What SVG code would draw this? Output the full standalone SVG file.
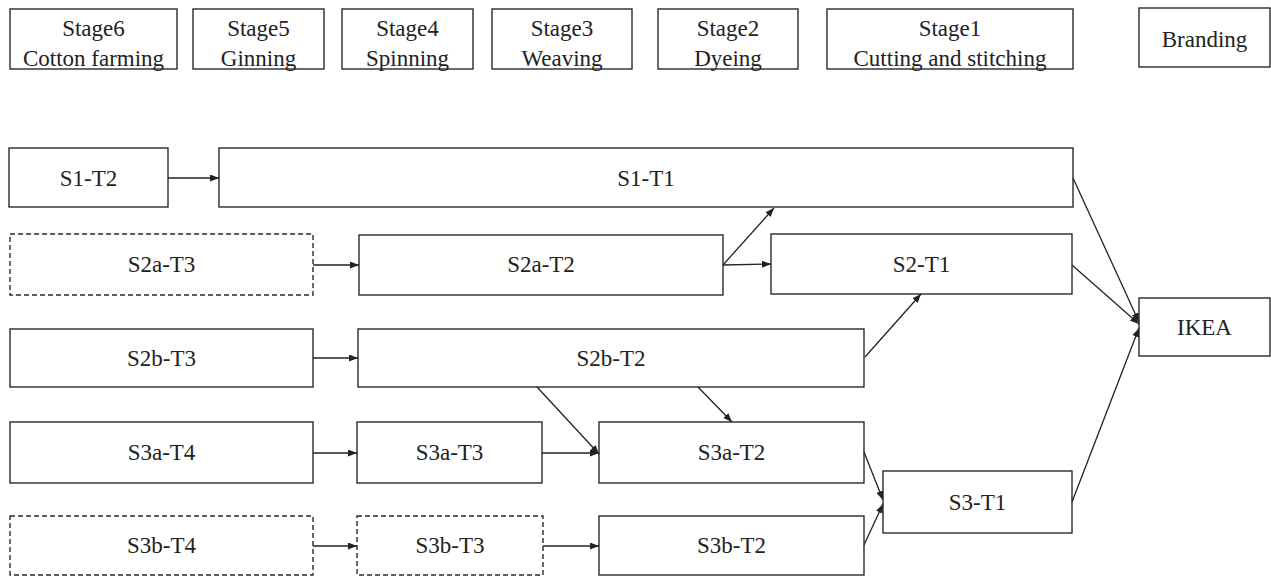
<svg xmlns="http://www.w3.org/2000/svg" width="1271" height="576" viewBox="0 0 1271 576">
<style>
.box{fill:#fff;stroke:#2a2a2a;stroke-width:1.4}
.dash{fill:#fff;stroke:#2a2a2a;stroke-width:1.4;stroke-dasharray:5 3}
.t{font-family:"Liberation Serif","Times New Roman",serif;font-size:23px;fill:#222;text-anchor:middle}
.c line{stroke:#222;stroke-width:1.3;marker-end:url(#ah)}
</style>
<defs>
<marker id="ah" markerUnits="userSpaceOnUse" markerWidth="10" markerHeight="8" refX="9" refY="3.5" orient="auto">
<path d="M0,0 L9,3.5 L0,7 z" fill="#222"/>
</marker>
</defs>
<rect width="1271" height="576" fill="#fff"/>
<g id="stage6"><rect class="box" x="10" y="9" width="167" height="60"/><text class="t" x="93.5" y="35.5">Stage6</text><text class="t" x="93.5" y="65.5">Cotton farming</text></g>
<g id="stage5"><rect class="box" x="193" y="9" width="131" height="60"/><text class="t" x="258.5" y="35.5">Stage5</text><text class="t" x="258.5" y="65.5">Ginning</text></g>
<g id="stage4"><rect class="box" x="342" y="9" width="131" height="60"/><text class="t" x="407.5" y="35.5">Stage4</text><text class="t" x="407.5" y="65.5">Spinning</text></g>
<g id="stage3"><rect class="box" x="492" y="9" width="140" height="60"/><text class="t" x="562" y="35.5">Stage3</text><text class="t" x="562" y="65.5">Weaving</text></g>
<g id="stage2"><rect class="box" x="658" y="9" width="140" height="60"/><text class="t" x="728" y="35.5">Stage2</text><text class="t" x="728" y="65.5">Dyeing</text></g>
<g id="stage1"><rect class="box" x="827" y="9" width="246" height="60"/><text class="t" x="950" y="35.5">Stage1</text><text class="t" x="950" y="65.5">Cutting and stitching</text></g>
<g id="branding"><rect class="box" x="1139" y="8" width="131" height="59"/><text class="t" x="1204.5" y="47">Branding</text></g>

<g id="S1-T2"><rect class="box" x="9" y="148" width="159" height="59"/><text class="t" x="88.5" y="185.5">S1-T2</text></g>
<g id="S1-T1"><rect class="box" x="219" y="148" width="854" height="59"/><text class="t" x="646" y="185.5">S1-T1</text></g>
<g id="S2a-T3"><rect class="dash" x="10" y="234" width="303" height="61"/><text class="t" x="161.5" y="272">S2a-T3</text></g>
<g id="S2a-T2"><rect class="box" x="359" y="235" width="364" height="60"/><text class="t" x="541" y="272">S2a-T2</text></g>
<g id="S2-T1"><rect class="box" x="771" y="234" width="301" height="60"/><text class="t" x="921.5" y="272">S2-T1</text></g>
<g id="S2b-T3"><rect class="box" x="10" y="329" width="303" height="58"/><text class="t" x="161.5" y="366">S2b-T3</text></g>
<g id="S2b-T2"><rect class="box" x="358" y="329" width="506" height="58"/><text class="t" x="611" y="366">S2b-T2</text></g>
<g id="S3a-T4"><rect class="box" x="10" y="422" width="303" height="61"/><text class="t" x="161.5" y="460">S3a-T4</text></g>
<g id="S3a-T3"><rect class="box" x="357" y="422" width="185" height="61"/><text class="t" x="449.5" y="460">S3a-T3</text></g>
<g id="S3a-T2"><rect class="box" x="599" y="422" width="265" height="61"/><text class="t" x="731.5" y="460">S3a-T2</text></g>
<g id="S3b-T4"><rect class="dash" x="10" y="516" width="303" height="59"/><text class="t" x="161.5" y="553">S3b-T4</text></g>
<g id="S3b-T3"><rect class="dash" x="357" y="516" width="186" height="59"/><text class="t" x="450" y="553">S3b-T3</text></g>
<g id="S3b-T2"><rect class="box" x="599" y="516" width="265" height="59"/><text class="t" x="731.5" y="553">S3b-T2</text></g>
<g id="S3-T1"><rect class="box" x="883" y="471" width="189" height="62"/><text class="t" x="977.5" y="510">S3-T1</text></g>
<g id="IKEA"><rect class="box" x="1139" y="298" width="131" height="58"/><text class="t" x="1204.5" y="335">IKEA</text></g>

<g id="connectors" class="c">
<line x1="168" y1="178" x2="219" y2="178"/>
<line x1="313" y1="265" x2="359" y2="265"/>
<line x1="723" y1="265" x2="774" y2="208"/>
<line x1="723" y1="265" x2="771" y2="264"/>
<line x1="313" y1="358" x2="358" y2="358"/>
<line x1="865" y1="357" x2="921" y2="294"/>
<line x1="537" y1="387" x2="599" y2="454"/>
<line x1="698" y1="387" x2="732" y2="422"/>
<line x1="313" y1="453" x2="357" y2="453"/>
<line x1="542" y1="453" x2="599" y2="453"/>
<line x1="313" y1="546" x2="357" y2="546"/>
<line x1="543" y1="546" x2="599" y2="546"/>
<line x1="864" y1="452" x2="883" y2="500"/>
<line x1="864" y1="545" x2="883" y2="504"/>
<line x1="1073" y1="178" x2="1139" y2="322"/>
<line x1="1072" y1="265" x2="1139" y2="324"/>
<line x1="1072" y1="502" x2="1139" y2="328"/>
</g>
</svg>
